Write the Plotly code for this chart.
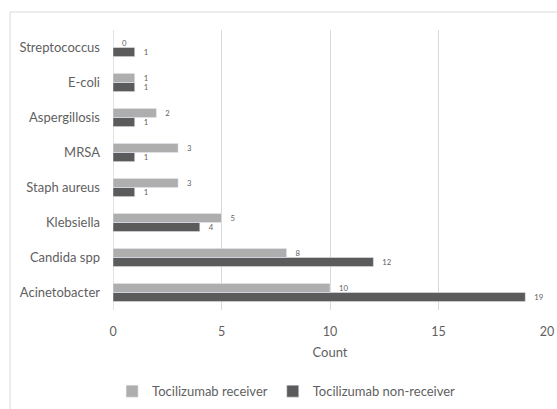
import plotly.graph_objects as go

categories = ["Acinetobacter", "Candida spp", "Klebsiella", "Staph aureus",
              "MRSA", "Aspergillosis", "E-coli", "Streptococcus"]
receiver = [10, 8, 5, 3, 3, 2, 1, 0]
non_receiver = [19, 12, 4, 1, 1, 1, 1, 1]
x_ticks = [0, 5, 10, 15, 20]

W, H = 557, 409
ML, MR, MT, MB = 113, 10, 30, 99
pw, ph = W - ML - MR, H - MT - MB

FONT = "Lato"
GREY_TXT = "#5F5F5F"

fig = go.Figure()
fig.add_trace(go.Bar(
    y=categories, x=non_receiver, orientation="h",
    name="Tocilizumab non-receiver", marker_color="#5B5B5B",
    text=non_receiver, texttemplate="   %{x}", textposition="outside",
    textfont=dict(size=8.5, color=GREY_TXT, family=FONT),
    cliponaxis=False, legendrank=2,
))
fig.add_trace(go.Bar(
    y=categories, x=receiver, orientation="h",
    name="Tocilizumab receiver", marker_color="#AEAEAE",
    text=receiver, texttemplate="   %{x}", textposition="outside",
    textfont=dict(size=8.5, color=GREY_TXT, family=FONT),
    cliponaxis=False, legendrank=1,
))

# outer chart border (left/top visible)
fig.add_shape(type="rect", xref="paper", yref="paper",
              x0=(10 - ML) / pw, x1=(W + 20 - ML) / pw,
              y0=-(H + 20 - MT - ph) / ph, y1=(MT + ph - 12) / ph,
              line=dict(color="#D9D9D9", width=1), fillcolor="rgba(0,0,0,0)",
              layer="above")

fig.update_layout(
    width=W, height=H,
    margin=dict(l=ML, r=MR, t=MT, b=MB, autoexpand=False),
    paper_bgcolor="white", plot_bgcolor="white",
    barmode="group", bargap=0.48, bargroupgap=0,
    font=dict(family=FONT, color=GREY_TXT, size=11),
    showlegend=True,
    legend=dict(orientation="h", x=0.40, xanchor="center", y=-0.29, yanchor="middle",
                font=dict(size=13, color=GREY_TXT), itemwidth=30,
                traceorder="normal"),
    xaxis=dict(range=[0, 20], tickvals=x_ticks, showgrid=True, gridcolor="#D9D9D9",
               gridwidth=1, zeroline=False, showline=False, ticks="",
               automargin=False, ticklabelstandoff=12,
               tickfont=dict(size=12.5, color=GREY_TXT),
               title=dict(text="Count", font=dict(size=13, color=GREY_TXT), standoff=10)),
    yaxis=dict(categoryorder="array", categoryarray=categories, showgrid=False,
               zeroline=False, showline=False, ticks="", automargin=False,
               ticklabelstandoff=12,
               tickfont=dict(size=13, color=GREY_TXT)),
)
fig.add_shape(type="line", xref="x", yref="paper", x0=0, x1=0, y0=0, y1=1,
              line=dict(color="#D9D9D9", width=1.5), layer="below")

fig.write_html("out.html", config={"displayModeBar": False},
               post_script="document.body.style.margin='0px';")
